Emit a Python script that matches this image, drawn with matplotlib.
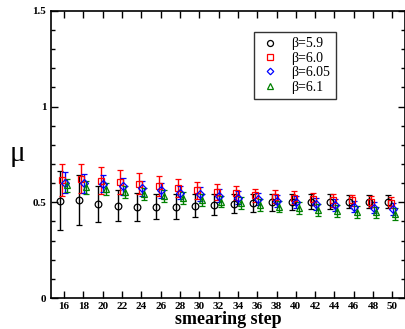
import matplotlib.pyplot as plt
from matplotlib.lines import Line2D
from matplotlib.ticker import MultipleLocator

# smearing steps and mu values
steps = list(range(16, 51, 2))

mu_59 = [0.508, 0.513, 0.492, 0.483, 0.478, 0.478, 0.478, 0.483, 0.487,
         0.492, 0.496, 0.501, 0.503, 0.503, 0.504, 0.504, 0.504, 0.504]
err_59 = [0.155, 0.13, 0.095, 0.08, 0.073, 0.065, 0.063, 0.058, 0.054,
          0.05, 0.047, 0.044, 0.043, 0.04, 0.037, 0.036, 0.036, 0.034]

mu_60 = [0.617, 0.623, 0.614, 0.605, 0.597, 0.583, 0.574, 0.562, 0.553,
         0.548, 0.536, 0.530, 0.525, 0.517, 0.510, 0.510, 0.504, 0.499]
err_60 = [0.083, 0.075, 0.07, 0.062, 0.055, 0.052, 0.048, 0.045, 0.042,
          0.038, 0.036, 0.034, 0.032, 0.032, 0.032, 0.03, 0.03, 0.03]

mu_605 = [0.603, 0.600, 0.597, 0.583, 0.574, 0.562, 0.551, 0.544, 0.534,
          0.525, 0.517, 0.508, 0.501, 0.492, 0.487, 0.478, 0.473, 0.466]
err_605 = [0.053, 0.05, 0.045, 0.043, 0.04, 0.038, 0.036, 0.035, 0.034,
           0.033, 0.032, 0.032, 0.03, 0.03, 0.03, 0.03, 0.03, 0.03]

mu_61 = [0.588, 0.579, 0.569, 0.553, 0.544, 0.534, 0.522, 0.513, 0.504,
         0.496, 0.487, 0.478, 0.470, 0.461, 0.456, 0.450, 0.447, 0.440]
err_61 = [0.035, 0.033, 0.032, 0.032, 0.03, 0.03, 0.03, 0.03, 0.03,
          0.03, 0.03, 0.03, 0.03, 0.03, 0.03, 0.03, 0.03, 0.03]

labels = ['β=5.9', 'β=6.0', 'β=6.05', 'β=6.1']

plt.rcParams['font.family'] = ['Liberation Serif', 'DejaVu Serif']

fig = plt.figure(figsize=(4.05, 3.29), dpi=100)
ax = fig.add_axes([0.126, 0.094, 0.874, 0.873])

series = [
    (mu_59, err_59, -0.45, 'o', 'black', 4.8),
    (mu_60, err_60, -0.2, 's', 'red', 4.2),
    (mu_605, err_605, 0.05, 'D', 'blue', 3.7),
    (mu_61, err_61, 0.3, '^', 'green', 4.8),
]
handles = []
for (mu, err, off, m, c, ms), lab in zip(series, labels):
    xs = [s + off for s in steps]
    ax.errorbar(xs, mu, yerr=err, fmt=m, color=c, mfc='none', mec=c,
                ms=ms, mew=0.9, elinewidth=1.0, capsize=2.5, capthick=1.0)
    handles.append(Line2D([], [], ls='none', marker=m, mfc='none', mec=c,
                          ms=ms * 0.9, mew=0.9, label=lab))

ax.set_xlim(14.65, 51.3)
ax.set_ylim(0, 1.5)
ax.set_xticks(steps)
ax.set_yticks([0, 0.5, 1, 1.5], ['0', '0.5', '1', '1.5'])
ax.yaxis.set_minor_locator(MultipleLocator(0.1))
ax.tick_params(direction='in', top=True, right=True, length=5, width=1)
ax.tick_params(axis='x', pad=3)
ax.tick_params(which='minor', direction='in', right=True, length=3, width=1)
for lab in ax.get_xticklabels() + ax.get_yticklabels():
    lab.set_fontsize(8)
    lab.set_fontweight('bold')
for sp in ax.spines.values():
    sp.set_linewidth(1.2)

ax.set_xlabel('smearing step', fontsize=13, fontweight='bold', labelpad=0)
ax.set_ylabel('μ', fontsize=21, rotation=0, va='center', labelpad=11)

leg = ax.legend(handles=handles, loc='upper left',
                bbox_to_anchor=(0.573, 0.927), borderaxespad=0, fontsize=10,
                frameon=True, fancybox=False, edgecolor='black',
                handlelength=1.5, handletextpad=0.8, labelspacing=0.1,
                borderpad=0.4)
leg.get_frame().set_linewidth(1.0)

fig.savefig('out.png', dpi=100)
